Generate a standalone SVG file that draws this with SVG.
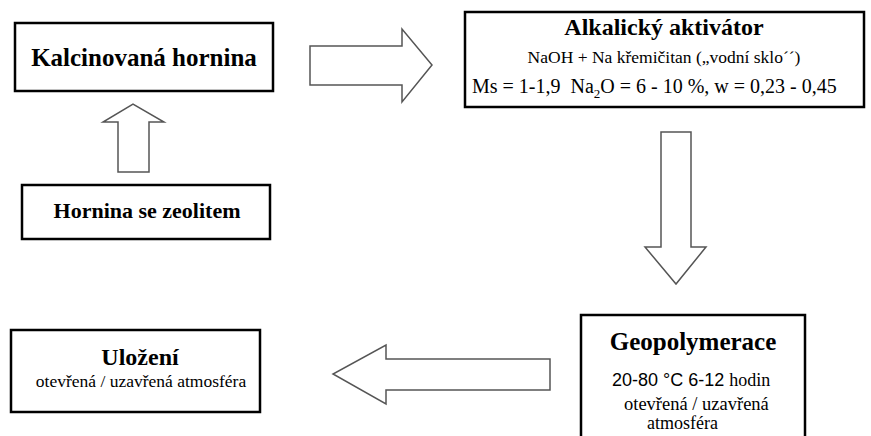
<svg xmlns="http://www.w3.org/2000/svg" width="871" height="436" viewBox="0 0 871 436">
<style>
.box{fill:#fff;stroke:#000;stroke-width:2.5}
.arr{fill:#fff;stroke:#555;stroke-width:1.5;stroke-linejoin:miter}
text{font-family:'Liberation Serif','Times New Roman',serif;fill:#000}
.b{font-weight:bold}
.s{font-family:'Liberation Sans',Arial,sans-serif}
</style>
<rect width="871" height="436" fill="#fff"/>
<g id="connectors">
<polygon class="arr" points="118,172 118,122 103,122 133,104 164,122 149,122 149,172"/>
<polygon class="arr" points="310,46 402,46 402,29 432,65 402,102 402,85 310,85"/>
<polygon class="arr" points="661,132 691,132 691,247 706,247 676,284 645,247 661,247"/>
<polygon class="arr" points="550,359 386,359 386,345 333,374 386,404 386,390 550,390"/>
</g>
<g id="kalcinovana">
<rect class="box" x="15" y="23" width="258" height="68"/>
<text class="b" x="144" y="66" font-size="25" text-anchor="middle">Kalcinovaná hornina</text>
</g>
<g id="hornina">
<rect class="box" x="22" y="185" width="248" height="54"/>
<text class="b" x="147" y="218" font-size="22" text-anchor="middle">Hornina se zeolitem</text>
</g>
<g id="aktivator">
<rect class="box" x="465" y="12" width="399" height="95"/>
<text class="b" x="664" y="35" font-size="24" text-anchor="middle">Alkalický aktivátor</text>
<text x="664" y="63" font-size="17.5" text-anchor="middle">NaOH + Na křemičitan („vodní sklo´´)</text>
<text x="472" y="93" font-size="20" xml:space="preserve">Ms = 1-1,9  Na<tspan font-size="13" dy="5">2</tspan><tspan dy="-5">O = 6 - 10 %, w = 0,23 - 0,45</tspan></text>
</g>
<g id="geopolymerace">
<rect class="box" x="581" y="315" width="224" height="130"/>
<text class="b" x="693" y="350" font-size="25" text-anchor="middle">Geopolymerace</text>
<text x="612" y="386" font-size="18"><tspan class="s">20-80 °C 6-12 </tspan>hodin</text>
<text x="624" y="410" font-size="18.5">otevřená / uzavřená</text>
<text x="647" y="429" font-size="18">atmosféra</text>
</g>
<g id="ulozeni">
<rect class="box" x="11" y="330" width="249" height="82"/>
<text class="b" x="140" y="365" font-size="24" text-anchor="middle">Uložení</text>
<text x="141" y="387" font-size="17.5" text-anchor="middle">otevřená / uzavřená atmosféra</text>
</g>
</svg>
